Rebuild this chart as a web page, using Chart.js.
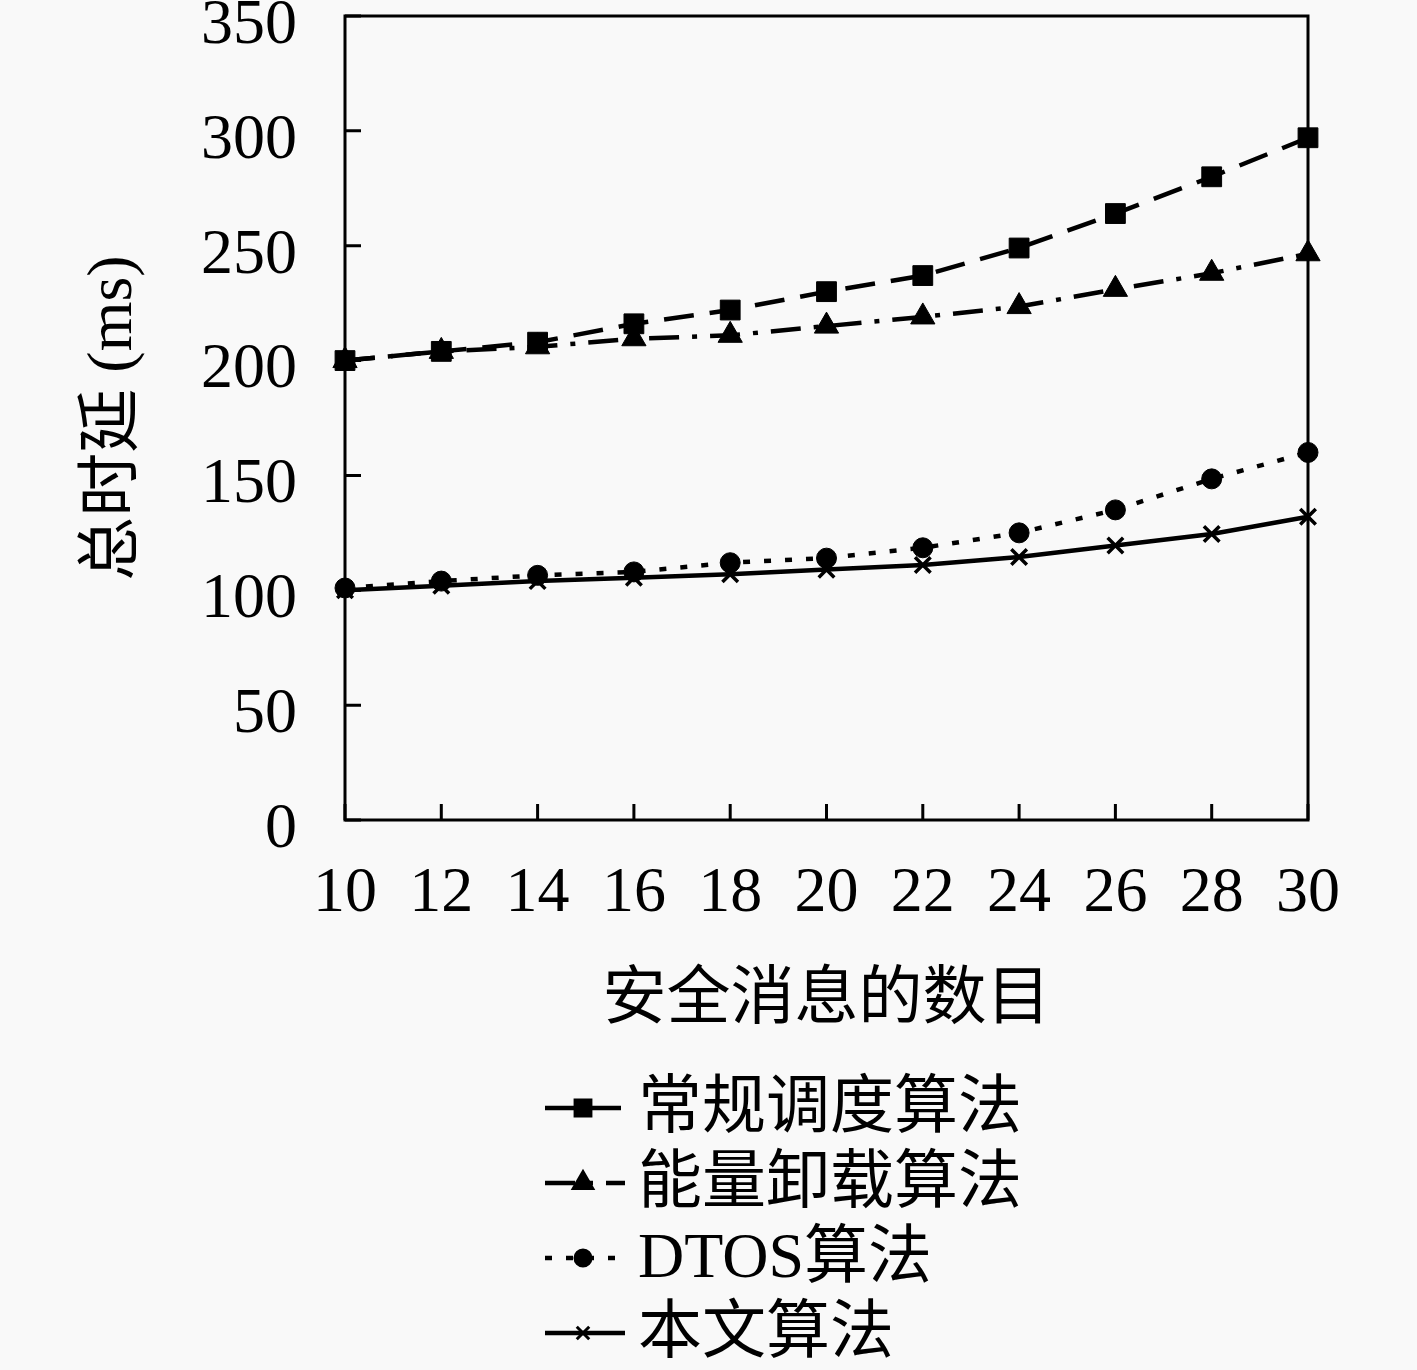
<!DOCTYPE html>
<html><head><meta charset="utf-8">
<script src="https://cdn.jsdelivr.net/npm/chart.js@4.4.1/dist/chart.umd.min.js"></script>
<style>
html,body{margin:0;padding:0;background:#f9f9f9;}
#wrap{width:1417px;height:1370px;position:relative;}
</style></head>
<body><div id="wrap"><canvas id="c" width="1417" height="1370"></canvas></div>
<script>
const categories = ['10','12','14','16','18','20','22','24','26','28','30'];
const seriesNames = ['常规调度算法','能量卸载算法','DTOS算法','本文算法'];
const conventional = [200,204,208,216,222,230,237,249,264,280,297];
const energyOffload = [200,204,206,209.5,211,215,219,223.5,231,238,246.5];
const dtos = [101,104,106.5,108,112,114,118.5,125,135,148.5,160];
const ours = [100,102,104,105.5,107,109,111,114.5,119.5,124.5,132];
const yTicks = [0,50,100,150,200,250,300,350];
const xTitle = '安全消息的数目';
const yTitle = '总时延 (ms)';

const FONT = '"Liberation Serif", "Noto Sans CJK SC", serif';
const styles = [
  {dash:[30,16], pt:'rect', r:14},
  {dash:[30,13,5,13], pt:'triangle', r:14},
  {dash:[7,14], pt:'circle', r:10},
  {dash:[], pt:'crossRot', r:11}
];
const values = [conventional, energyOffload, dtos, ours];

const bgPlugin = {
  id:'bg',
  beforeDraw(chart){
    const ctx = chart.ctx;
    ctx.save(); ctx.fillStyle='#f9f9f9'; ctx.fillRect(0,0,chart.width,chart.height); ctx.restore();
  }
};

const framePlugin = {
  id:'frame',
  afterDatasetsDraw(chart){
    const {ctx, chartArea:a, scales} = chart;
    ctx.save();
    ctx.strokeStyle='#000'; ctx.lineWidth=3; ctx.setLineDash([]);
    ctx.strokeRect(a.left, a.top, a.right-a.left, a.bottom-a.top);
    ctx.beginPath();
    yTicks.forEach(v=>{
      const y = scales.y.getPixelForValue(v);
      ctx.moveTo(a.left, y); ctx.lineTo(a.left+16, y);
    });
    categories.forEach((c,i)=>{
      const x = scales.x.getPixelForValue(i);
      ctx.moveTo(x, a.bottom); ctx.lineTo(x, a.bottom-16);
    });
    ctx.stroke();
    ctx.restore();
  }
};

const legendPlugin = {
  id:'customLegend',
  afterDraw(chart){
    const ctx = chart.ctx;
    const rows = [1108,1183,1258,1333];
    ctx.save();
    chart.data.datasets.forEach((ds,i)=>{
      const y = rows[i];
      ctx.strokeStyle='#000'; ctx.lineWidth=4.5;
      ctx.setLineDash(ds.borderDash||[]);
      ctx.lineDashOffset = 0;
      ctx.beginPath(); ctx.moveTo(545,y); ctx.lineTo(625,y); ctx.stroke();
      ctx.setLineDash([]);
      const opts = {pointStyle: ds.pointStyle, radius: ds.pointRadius*0.8, rotation:0, borderWidth:3};
      ctx.fillStyle='#000'; ctx.strokeStyle='#000'; ctx.lineWidth=3;
      if (Chart.helpers && Chart.helpers.drawPoint) {
        Chart.helpers.drawPoint(ctx, opts, 583, y);
      }
      ctx.fillStyle='#000';
      ctx.font = '64px ' + FONT;
      ctx.textBaseline='middle'; ctx.textAlign='left';
      ctx.fillText(ds.label, 638, y+2);
    });
    ctx.restore();
  }
};

const datasets = seriesNames.map((name,i)=>({
  label:name,
  data: values[i],
  borderColor:'#000',
  backgroundColor:'#000',
  borderWidth:4.5,
  borderDash: styles[i].dash,
  pointStyle: styles[i].pt,
  pointRadius: styles[i].r,
  pointBorderWidth: i===3 ? 3.5 : 1,
  pointBackgroundColor:'#000',
  pointBorderColor:'#000',
  tension:0,
  fill:false
}));

new Chart(document.getElementById('c'), {
  type:'line',
  data:{labels:categories, datasets},
  options:{
    responsive:false,
    animation:false,
    devicePixelRatio:1,
    layout:{padding:{left:0,right:109,top:16,bottom:330}},
    plugins:{legend:{display:false}, tooltip:{enabled:false}},
    scales:{
      x:{
        type:'category',
        offset:false,
        grid:{display:false, drawTicks:false},
        border:{display:false},
        ticks:{color:'#000', font:{family:FONT, size:64}, padding:36, maxRotation:0, autoSkip:false},
        title:{display:true, text:xTitle, color:'#000', font:{family:FONT, size:64}, padding:0},
        afterFit(s){ s.height = 220; s.paddingLeft = 0; s.paddingRight = 0; }
      },
      y:{
        min:0, max:350,
        grid:{display:false, drawTicks:false},
        border:{display:false},
        afterBuildTicks(s){ s.ticks = yTicks.map(v=>({value:v})); },
        ticks:{color:'#000', font:{family:FONT, size:64}, padding:48, labelOffset:10},
        title:{display:true, text:yTitle, color:'#000', font:{family:FONT, size:64}, padding:{top:76,bottom:0}},
        afterFit(s){ s.width = 345; s.paddingTop = 0; s.paddingBottom = 0; }
      }
    }
  },
  plugins:[bgPlugin, framePlugin, legendPlugin]
});
</script></body></html>
